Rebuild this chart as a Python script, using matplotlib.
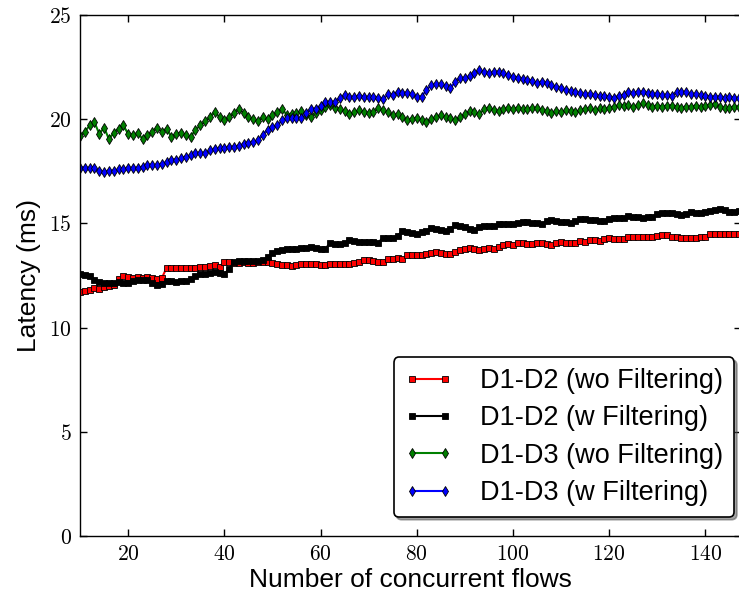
import numpy as np
import matplotlib
matplotlib.use('Agg')
import matplotlib.pyplot as plt
from matplotlib.ticker import FuncFormatter

plt.rcParams['mathtext.fontset'] = 'cm'
plt.rcParams['font.family'] = ['Liberation Sans', 'DejaVu Sans']

# number of concurrent flows (x = 10 .. 147)
flows = np.arange(10, 148)

# D1-D2 (wo Filtering)
d12_wo = [
    11.72, 11.76, 11.82, 11.88, 11.86, 11.93, 11.98, 12.06, 12.33, 12.48,
    12.43, 12.38, 12.43, 12.38, 12.43, 12.36, 12.33, 12.38, 12.87, 12.87,
    12.87, 12.87, 12.87, 12.87, 12.88, 12.90, 12.93, 12.97, 13.00, 12.93,
    13.13, 13.13, 13.10, 13.10, 13.13, 13.11, 13.11, 13.13, 13.14, 13.16,
    13.10, 13.03, 13.00, 12.98, 12.97, 13.00, 13.03, 13.05,
    13.06, 13.06, 12.98, 12.98, 13.03, 13.06, 13.06, 13.03, 13.03, 13.09,
    13.14, 13.22, 13.22, 13.19, 13.14, 13.17, 13.31, 13.31, 13.34, 13.27,
    13.46, 13.50, 13.50, 13.50, 13.54, 13.57, 13.62, 13.57, 13.54, 13.54,
    13.62, 13.74, 13.78, 13.82, 13.78, 13.74, 13.78, 13.82, 13.78, 13.86,
    13.97, 14.02, 13.94, 14.05, 14.05, 14.02,
    14.02, 14.05, 14.05, 14.02, 13.97, 14.05, 14.13, 14.07, 14.07, 14.05,
    14.15, 14.13, 14.21, 14.21, 14.17, 14.26, 14.30, 14.23, 14.26, 14.26,
    14.33, 14.34, 14.34, 14.36, 14.33, 14.33, 14.39, 14.42, 14.42, 14.37,
    14.34, 14.31, 14.31, 14.31, 14.31, 14.37, 14.37, 14.49, 14.47, 14.47,
    14.47, 14.49, 14.49, 14.47,
]

# D1-D2 (w Filtering)
d12_w = [
    12.58, 12.54, 12.46, 12.30, 12.18, 12.13, 12.16, 12.16, 12.20, 12.12,
    12.16, 12.24, 12.29, 12.29, 12.26, 12.12, 12.06, 12.08, 12.24, 12.22,
    12.18, 12.22, 12.24, 12.33, 12.48, 12.56, 12.56, 12.60, 12.68, 12.60,
    12.56, 12.83, 13.13, 13.21, 13.21, 13.21, 13.18, 13.18, 13.24, 13.38,
    13.60, 13.68, 13.70, 13.76, 13.78, 13.76, 13.82, 13.84,
    13.89, 13.84, 13.76, 13.79, 14.05, 14.00, 14.00, 14.05, 14.21, 14.16,
    14.11, 14.11, 14.11, 14.13, 14.08, 14.32, 14.32, 14.32, 14.40, 14.64,
    14.59, 14.56, 14.48, 14.59, 14.64, 14.80, 14.75, 14.69, 14.64, 14.75,
    14.91, 14.88, 14.85, 14.75, 14.69, 14.85, 14.88, 14.88, 14.88, 14.96,
    14.99, 14.99, 14.99, 15.04, 15.07, 15.07,
    15.04, 15.01, 14.96, 15.12, 15.17, 15.12, 15.09, 15.07, 15.04, 15.12,
    15.20, 15.20, 15.17, 15.17, 15.12, 15.12, 15.20, 15.28, 15.25, 15.24,
    15.36, 15.33, 15.33, 15.28, 15.31, 15.33, 15.44, 15.49, 15.49, 15.49,
    15.44, 15.39, 15.44, 15.56, 15.52, 15.52, 15.57, 15.60, 15.63, 15.68,
    15.63, 15.57, 15.56, 15.60,
]

# D1-D3 (wo Filtering)
d13_wo = [
    19.20, 19.40, 19.70, 19.85, 19.30, 19.60, 19.05, 19.35, 19.55, 19.70,
    19.30, 19.24, 19.35, 19.05, 19.25, 19.40, 19.60, 19.40, 19.55, 19.15,
    19.30, 19.35, 19.25, 19.15, 19.50, 19.70, 19.90, 20.10, 20.35, 20.10,
    19.95, 20.10, 20.30, 20.50, 20.30, 20.10, 20.00, 19.90, 20.10, 20.00,
    20.20, 20.35, 20.50, 20.20, 20.25, 20.30, 20.40, 20.20,
    20.12, 20.30, 20.45, 20.60, 20.68, 20.55, 20.50, 20.40, 20.25, 20.33,
    20.44, 20.36, 20.28, 20.36, 20.52, 20.44, 20.33, 20.20, 20.23, 20.12,
    19.96, 20.01, 20.07, 19.96, 19.88, 20.01, 20.12, 20.20, 20.12, 20.07,
    19.96, 20.10, 20.25, 20.39, 20.33, 20.23, 20.49, 20.55, 20.44, 20.39,
    20.47, 20.52, 20.49, 20.55, 20.49, 20.50,
    20.52, 20.55, 20.44, 20.39, 20.31, 20.39, 20.33, 20.44, 20.39, 20.33,
    20.44, 20.49, 20.52, 20.44, 20.52, 20.47, 20.55, 20.60, 20.68, 20.65,
    20.68, 20.60, 20.68, 20.76, 20.68, 20.60, 20.65, 20.60, 20.65, 20.65,
    20.60, 20.52, 20.60, 20.60, 20.65, 20.60, 20.65, 20.68, 20.71, 20.60,
    20.55, 20.55, 20.60, 20.60,
]

# D1-D3 (w Filtering)
d13_w = [
    17.67, 17.67, 17.64, 17.64, 17.52, 17.45, 17.52, 17.52, 17.60, 17.62,
    17.64, 17.64, 17.67, 17.72, 17.82, 17.80, 17.80, 17.85, 17.96, 18.06,
    18.06, 18.12, 18.20, 18.28, 18.38, 18.38, 18.36, 18.50, 18.55, 18.60,
    18.62, 18.65, 18.68, 18.72, 18.82, 18.88, 18.90, 19.00, 19.25, 19.50,
    19.62, 19.70, 19.95, 20.05, 20.05, 20.07, 20.05, 20.30,
    20.49, 20.49, 20.65, 20.84, 20.81, 20.81, 21.03, 21.16, 21.08, 21.05,
    21.13, 21.08, 21.05, 21.08, 21.00, 20.97, 21.19, 21.16, 21.32, 21.24,
    21.24, 21.19, 21.08, 21.08, 21.40, 21.64, 21.67, 21.67, 21.61, 21.48,
    21.80, 21.99, 21.96, 22.09, 22.20, 22.36, 22.28, 22.20, 22.25, 22.28,
    22.20, 22.12, 22.04, 21.99, 21.93, 21.88,
    21.83, 21.72, 21.80, 21.72, 21.64, 21.56, 21.48, 21.40, 21.35, 21.29,
    21.24, 21.19, 21.19, 21.16, 21.13, 21.13, 21.08, 21.03, 21.13, 21.16,
    21.32, 21.24, 21.32, 21.29, 21.24, 21.19, 21.19, 21.16, 21.16, 21.13,
    21.29, 21.32, 21.29, 21.19, 21.19, 21.16, 21.13, 21.08, 21.08, 21.08,
    21.03, 21.08, 21.03, 21.00,
]

labels = ['D1-D2 (wo Filtering)', 'D1-D2 (w Filtering)',
          'D1-D3 (wo Filtering)', 'D1-D3 (w Filtering)']

fig = plt.figure(figsize=(7.39, 5.91), dpi=100)
ax = fig.add_axes([0.1083, 0.0931, 0.895, 0.8815])

ax.plot(flows, d12_wo, color='red', lw=1.5, marker='s', ms=4.2,
        mec='black', mew=0.6, label=labels[0])
ax.plot(flows, d12_w, color='black', lw=1.5, marker='s', ms=4.6,
        mec='black', mew=0.6, label=labels[1])
ax.plot(flows, d13_wo, color='green', lw=1.5, marker='d', ms=5,
        mec='black', mew=0.6, label=labels[2])
ax.plot(flows, d13_w, color='blue', lw=1.5, marker='d', ms=5,
        mec='black', mew=0.6, label=labels[3])

ax.set_xlim(10, 147.5)
ax.set_ylim(0, 25)
ax.set_xticks([20, 40, 60, 80, 100, 120, 140])
ax.set_yticks([0, 5, 10, 15, 20, 25])
fmt = FuncFormatter(lambda v, p: '$%d$' % v)
ax.xaxis.set_major_formatter(fmt)
ax.yaxis.set_major_formatter(fmt)
ax.tick_params(direction='in', length=5, width=1, labelsize=15.5,
               top=True, right=True, pad=6)
for s in ax.spines.values():
    s.set_linewidth(1)

ax.set_xlabel('Number of concurrent flows', fontsize=19, labelpad=2)
ax.set_ylabel('Latency (ms)', fontsize=19, labelpad=6)

leg = ax.legend(loc='lower right', bbox_to_anchor=(0.989, 0.0365),
                borderaxespad=0, fontsize=19.5, shadow=True, fancybox=True,
                handlelength=1.8, handletextpad=1.0, labelspacing=0.42,
                borderpad=0.4, numpoints=2, framealpha=1)
leg.get_frame().set_edgecolor('black')
leg.get_frame().set_linewidth(1.2)

fig.savefig('out.png', dpi=100)
